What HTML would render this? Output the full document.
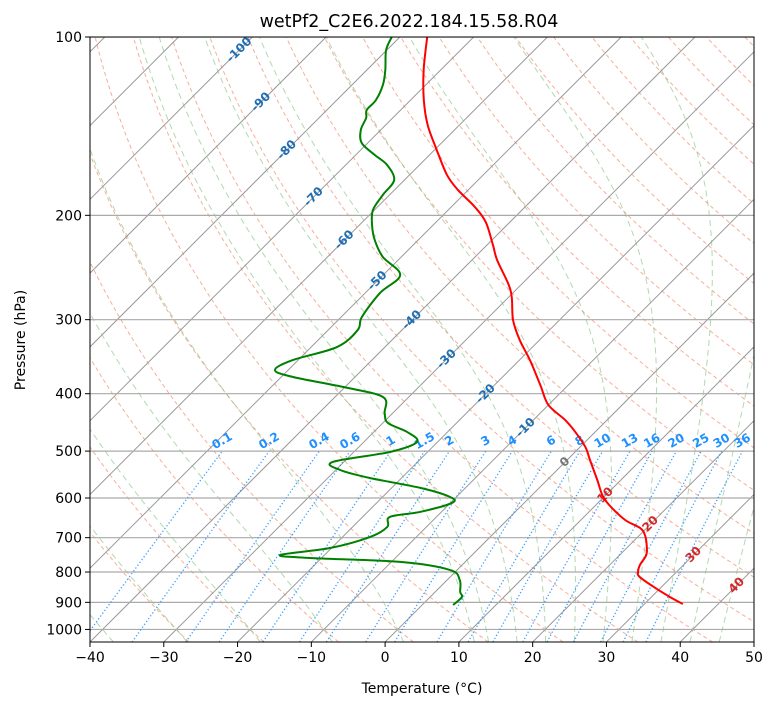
<!DOCTYPE html>
<html><head><meta charset="utf-8">
<style>
body{margin:0;background:#fff;}
svg{display:block;font-family:"DejaVu Sans","Liberation Sans",sans-serif;}
</style></head>
<body>
<svg id="chart" width="775" height="708" viewBox="0 0 775 708" xmlns="http://www.w3.org/2000/svg">
<defs><clipPath id="plotclip"><rect x="90" y="37" width="664" height="605"/></clipPath></defs>
<text x="409" y="27" font-size="17.5" text-anchor="middle">wetPf2_C2E6.2022.184.15.58.R04</text>
<g id="grid" clip-path="url(#plotclip)"></g>
<g id="labels" clip-path="url(#plotclip)"></g>
<g id="profiles" clip-path="url(#plotclip)"></g>
<rect x="90" y="37" width="664" height="605" fill="none" stroke="#000" stroke-width="1"/>
<g id="axes"></g>
<text x="422" y="693" font-size="14" text-anchor="middle">Temperature (°C)</text>
<text x="25" y="340" font-size="14" text-anchor="middle" transform="rotate(-90 25 340)">Pressure (hPa)</text>
</svg>
<script>
// ---- data ----
const tempP = [100,113.7,127.8,140.8,155.1,171.0,181.2,193.6,205.2,224.4,237.9,260.2,274.7,300.4,324.6,350.9,386.7,417.9,443.0,464.1,492.0,517.6,559.4,592.9,616.5,653.5,674.1,692.6,720.1,748.6,778.3,800.0,815.6,851.1,881.4,905.7];
const tempT = [-76.3,-72.3,-68.2,-64.3,-59.7,-54.9,-51.4,-46.8,-43.3,-39.2,-36.6,-32.0,-29.6,-26.3,-22.7,-18.6,-13.8,-10.0,-5.7,-2.7,0.7,3.1,6.8,9.5,11.8,16.0,19.1,20.7,22.3,23.6,24.1,24.8,25.7,29.3,32.5,35.2];
const dewP = [100,105.2,113.7,120.5,127.8,132.8,137.0,143.5,151.0,158.2,164.4,174.3,184.8,195.9,207.6,220.1,235.1,252.2,270.4,296.9,312.4,333.7,350.9,364.8,374.9,389.6,405.2,431.2,448.3,464.1,482.5,501.7,521.6,538.1,555.1,576.9,597.4,611.6,633.4,645.8,671.4,698.2,728.7,748.6,757.4,769.2,793.5,825.0,864.5,881.4,909.3];
const dewT = [-81.1,-80.1,-77.5,-75.8,-74.7,-74.6,-73.6,-72.7,-70.8,-67.4,-64.4,-61.4,-60.9,-60.2,-58.3,-55.9,-52.5,-47.7,-48.0,-47.2,-46.0,-46.5,-50.7,-51.8,-48.4,-40.3,-33.5,-31.1,-29.3,-25.5,-22.8,-25.1,-31.5,-29.4,-24.3,-16.1,-10.9,-9.8,-12.9,-16.3,-15.3,-16.3,-20.2,-26.0,-21.6,-8.8,-1.0,1.7,3.4,4.3,4.2];
const xTicks = [-40,-30,-20,-10,0,10,20,30,40,50];
const pTicks = [100,200,300,400,500,600,700,800,900,1000];
const mixRatios = [0.1,0.2,0.4,0.6,1,1.5,2,3,4,6,8,10,13,16,20,25,30,36];
const isoLabelT = [-100,-90,-80,-70,-60,-50,-40,-30,-20,-10,0,10,20,30,40];
const isoLabelP = [105.2,128.8,155.1,186.2,220.1,257.9,300.4,349.6,400.3,456.5,522,594,664,748,843];

// ---- axis functions ----
const X0=90, X1=754, Y0=37, Y1=642, TMIN=-40, TMAX=50, PTOP=100, PBOT=1050;
const pxPerDeg=(X1-X0)/(TMAX-TMIN);
const K=(Y1-Y0)/Math.log10(PBOT/PTOP);
function yP(p){return Y0+Math.log10(p/PTOP)*K;}
function xT(t,p){const y=yP(p);return X0+(t-TMIN)*pxPerDeg+(Y1-y);}
const NS='http://www.w3.org/2000/svg';
const grid=document.getElementById('grid'), labels=document.getElementById('labels'), prof=document.getElementById('profiles'), axes=document.getElementById('axes');
function mk(tag,attrs,parent){const e=document.createElementNS(NS,tag);for(const k in attrs)e.setAttribute(k,attrs[k]);parent.appendChild(e);return e;}
function pathFrom(ps,ts){return ps.map((p,i)=>(i?'L':'M')+xT(ts[i],p).toFixed(2)+','+yP(p).toFixed(2)).join('');}
function smoothFrom(ps,ts){
  const pts=ps.map((p,i)=>[xT(ts[i],p),yP(p)]);
  let d='M'+pts[0][0].toFixed(2)+','+pts[0][1].toFixed(2);
  for(let i=0;i<pts.length-1;i++){
    const p0=pts[Math.max(0,i-1)],p1=pts[i],p2=pts[i+1],p3=pts[Math.min(pts.length-1,i+2)];
    const c1=[p1[0]+(p2[0]-p0[0])/6,p1[1]+(p2[1]-p0[1])/6];
    const c2=[p2[0]-(p3[0]-p1[0])/6,p2[1]-(p3[1]-p1[1])/6];
    d+='C'+c1[0].toFixed(2)+','+c1[1].toFixed(2)+' '+c2[0].toFixed(2)+','+c2[1].toFixed(2)+' '+p2[0].toFixed(2)+','+p2[1].toFixed(2);
  }
  return d;
}
const pGrid=[];for(let p=PBOT;p>=PTOP;p-=5)pGrid.push(p);

// dry adiabats
for(let t0=-30;t0<=200;t0+=10){
  const th=t0+273.15;const ts=pGrid.map(p=>th*Math.pow(p/1000,0.2857)-273.15);
  const e=mk('path',{d:pathFrom(pGrid,ts),fill:'none',stroke:'#f59a7e','stroke-width':1,'stroke-dasharray':'4,3',opacity:0.8},grid);
  
  
}
// moist adiabats
function es(T){return 6.112*Math.exp(17.67*T/(T+243.5));}
function dTdp(p,T){const Tk=T+273.15;const e=es(T);const rs=0.622*e/(p-e);const Rd=287.04,Lv=2.501e6,Cp=1005.7;
  return (1/p)*(Rd*Tk+Lv*rs)/(Cp+Lv*Lv*rs*0.622/(Rd*Tk*Tk));}
const moistT0=[-50,-40,-30,-20,-10,0,10,12,16,20,24,28,32,36,40,44];
moistT0.forEach(t0=>{
  const pts={};let T=t0;pts[1000]=T;
  for(let p=1000;p<PBOT;p+=1){T+=dTdp(p,T)*1;if((p+1)%5===0)pts[p+1]=T;}
  T=t0;for(let p=1000;p>PTOP;p-=1){T-=dTdp(p,T)*1;if((p-1)%5===0)pts[p-1]=T;}
  const ts=pGrid.map(p=>pts[p]);
  const e=mk('path',{d:pathFrom(pGrid,ts),fill:'none',stroke:'#86c586','stroke-width':1,'stroke-dasharray':'6,4',opacity:0.65},grid);
  
  
});
// isotherms
for(let t=-160;t<=50;t+=10){
  const e=mk('line',{x1:xT(t,PBOT),y1:yP(PBOT),x2:xT(t,PTOP),y2:yP(PTOP),stroke:'#999','stroke-width':1},grid);
  
  
}
// isobars
pTicks.forEach(p=>{
  const e=mk('line',{x1:X0,x2:X1,y1:yP(p),y2:yP(p),stroke:'#aaa','stroke-width':1.2},grid);
  
  
});
// mixing ratio lines
const mixP=[];for(let p=PBOT;p>=500;p-=5)mixP.push(p);
function tdW(w,p){const e=p*w/(622+w);const l=Math.log(e/6.112);return 243.5*l/(17.67-l);}
mixRatios.forEach(w=>{
  const e=mk('path',{d:pathFrom(mixP,mixP.map(p=>tdW(w,p))),fill:'none',stroke:'#1e90ff','stroke-width':1.3,'stroke-dasharray':'1.3,2.2',opacity:0.85},grid);
  
  
  const lx=xT(tdW(w,500),500), ly=yP(500)-10;
  const t=mk('text',{x:lx,y:ly,'font-size':12,'font-weight':'bold',fill:'#1e90ff','text-anchor':'middle','dominant-baseline':'middle',transform:`rotate(-30 ${lx} ${ly})`},labels);
  t.textContent=String(w);
  
  
});
// isotherm labels
isoLabelT.forEach((t,i)=>{
  const p=isoLabelP[i];const lx=xT(t,p), ly=yP(p);
  const col=t<0?'#1f6fb4':(t===0?'#777':'#d62728');
  const e=mk('text',{x:lx,y:ly,'font-size':12,'font-weight':'bold',fill:col,'text-anchor':'middle','dominant-baseline':'middle',transform:`rotate(-45 ${lx} ${ly})`},labels);
  e.textContent=String(t);
  
  
});
// profiles
const tl=mk('path',{d:smoothFrom(tempP,tempT),fill:'none',stroke:'#ff0000','stroke-width':2,'stroke-linejoin':'round'},prof);


const dl=mk('path',{d:smoothFrom(dewP,dewT),fill:'none',stroke:'#008000','stroke-width':2,'stroke-linejoin':'round'},prof);


// ticks
xTicks.forEach(t=>{
  const x=X0+(t-TMIN)*pxPerDeg;
  const l=mk('line',{x1:x,x2:x,y1:Y1,y2:Y1+5,stroke:'#000'},axes);
  
  
  const e=mk('text',{x:x,y:Y1+20,'font-size':14,'text-anchor':'middle'},axes);
  e.textContent=t<0?'\u2212'+(-t):String(t);
  
  
});
pTicks.forEach(p=>{
  const y=yP(p);
  const l=mk('line',{x1:X0-5,x2:X0,y1:y,y2:y,stroke:'#000'},axes);
  
  
  const e=mk('text',{x:X0-8,y:y+5,'font-size':14,'text-anchor':'end'},axes);
  e.textContent=String(p);
  
  
});
</script>
</body></html>
